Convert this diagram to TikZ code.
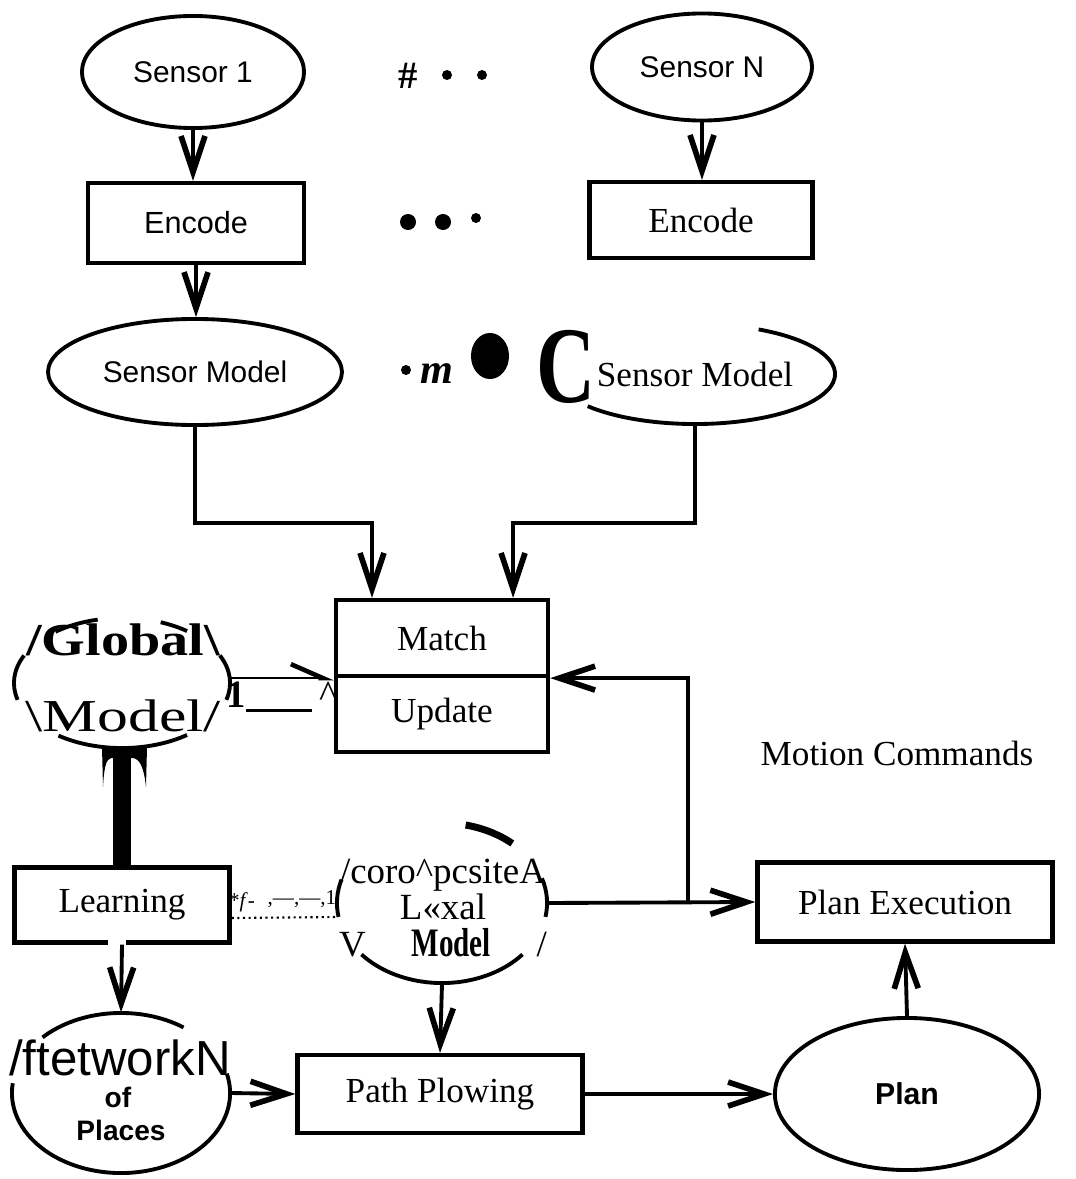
\documentclass[tikz,border=0pt]{standalone}
\usepackage{fontspec}
\setmainfont{Liberation Serif}
\setsansfont{Liberation Sans}
\usepackage{graphicx}
\usepackage{tikz}
\usetikzlibrary{shapes.geometric,arrows.meta,positioning}

\newcommand{\fsz}[1]{\fontsize{#1}{#1}\selectfont}

\begin{document}
\begin{tikzpicture}[x=0.01cm,y=-0.01cm]
\tikzstyle{line} = [line width=1.1pt]
\tikzstyle{box} = [draw, line width=1.2pt, rectangle, font=\fsz{10}]
\tikzstyle{oval} = [draw, line width=1.1pt, ellipse, font=\sffamily\fsz{8.5}]
\tikzstyle{blob} = [ellipse, inner sep=0pt]% outline drawn piece by piece below
\tikzstyle{arr} = [line width=1.1pt, -{Straight Barb[length=0.36cm,width=0.24cm,line width=1.6pt]}]
\tikzstyle{harp} = [line width=0.5pt, -{Straight Barb[harpoon,length=0.32cm,width=0.28cm,line width=1.3pt]}]
%
\useasboundingbox (0,0) rectangle (1076,1179);

	% sensors
	\node[oval, minimum width=2.22cm, minimum height=1.12cm] (sensA) at (193,72) {Sensor 1};
	\node[oval, minimum width=2.20cm, minimum height=1.07cm] (sensN) at (702,67) {Sensor N};
	\node[box, font=\sffamily\fsz{8.7}, minimum width=2.16cm, minimum height=0.80cm] (encA) at (196,223) {Encode};
	\node[box, minimum width=2.23cm, minimum height=0.76cm] (encN) at (701,220) {Encode};
	\node[oval, minimum width=2.86cm, minimum height=1.06cm] (smA) at (195,372) {Sensor Model};
	\node[blob, font=\fsz{10}, minimum width=2.8cm, minimum height=1.0cm] (smN) at (695,374) {Sensor Model};
	\draw[line] ([shift={(63:1.4cm and 0.5cm)}]smN.center) arc[start angle=63, end angle=-140, x radius=1.4cm, y radius=0.5cm];

	% dots between the columns
	\node[font=\bfseries\fsz{11}] (hash) at (408,76) {\#};
	\fill (447,75) circle[radius=0.05cm];
	\fill (482,75) circle[radius=0.05cm];
	\fill (408,222) circle[radius=0.08cm];
	\fill (443,222) circle[radius=0.08cm];
	\fill (476,218) circle[radius=0.05cm];
	\fill (406,370) circle[radius=0.05cm];
	\node[font=\bfseries\itshape\fsz{12}] (emm) at (437,374) {m};
	\fill (490,356) ellipse[x radius=0.19cm, y radius=0.23cm];
	\node[font=\bfseries\fsz{31}] (bigC) at (566,367) {\scalebox{0.75}[1]{C}};

	% match / update
	\node[box, minimum width=2.12cm, minimum height=0.76cm] (match) at (442,638) {Match};
	\node[box, minimum width=2.12cm, minimum height=0.76cm, below=-1.2pt of match] (update) {Update};

	% global model
	\node[blob, minimum width=2.16cm, minimum height=1.30cm] (glob) at (122,683) {};
	\node[font=\bfseries\fsz{13}] (globA) at (123,640) {\scalebox{1.23}[1]{/Global\textbackslash}};
	\node[font=\fsz{13}] (globB) at (123,716) {\scalebox{1.35}[1]{\textbackslash Model/}};
	\foreach \a/\b in {128/103, 69/53, 25/-15, 155/195, 234/307}
		\draw[line] ([shift={(\a:1.08cm and 0.65cm)}]glob.center) arc[start angle=\a, end angle=\b, x radius=1.08cm, y radius=0.65cm];
	\node[font=\fsz{11}] (tick) at (282,697) {\textbf{1}\rule[-1.5pt]{0.66cm}{1pt}\hspace{2pt}\textasciicircum};

	% lower part
	\node[box, minimum width=2.15cm, minimum height=0.75cm] (learn) at (122,905) {Learning};
	\node[blob, minimum width=2.10cm, minimum height=1.60cm] (comp) at (442,903) {};
	\node[font=\fsz{10.5}, align=center] (compT) at (443,908)
		{/coro\textasciicircum pcsiteA\\L«xal\\V\hspace{13pt}\scalebox{0.72}[1]{\fsz{11.5}\bfseries Model}\hspace{13pt}/};
	\foreach \a/\b in {163/190, 18/-10, 220/320}
		\draw[line] ([shift={(\a:1.05cm and 0.8cm)}]comp.center) arc[start angle=\a, end angle=\b, x radius=1.05cm, y radius=0.8cm];
	\draw[line width=2pt] ([shift={(77:1.05cm and 0.8cm)}]comp.center) arc[start angle=77, end angle=48, x radius=1.05cm, y radius=0.8cm];
	\node[box, minimum width=2.95cm, minimum height=0.79cm] (pexec) at (905,902) {Plan Execution};
	\node[font=\fsz{10}] (motion) at (897,753) {Motion Commands};
	\node[box, minimum width=2.85cm, minimum height=0.78cm] (path) at (440,1094) {Path Plowing};
	\node[oval, font=\sffamily\bfseries\fsz{8.6}, minimum width=2.64cm, minimum height=1.52cm] (plan) at (907,1094) {Plan};
	\node[blob, minimum width=2.18cm, minimum height=1.60cm] (net) at (121,1093) {};
	\foreach \a/\b in {136/55, 14/-187}
		\draw[line] ([shift={(\a:1.09cm and 0.8cm)}]net.center) arc[start angle=\a, end angle=\b, x radius=1.09cm, y radius=0.8cm];
	\node[font=\sffamily\fsz{14}] (netA) at (120,1058) {/ftetworkN};
	\node[font=\sffamily\bfseries\fsz{8}] (netB) at (118,1097) {of};
	\node[font=\sffamily\bfseries\fsz{8}] (netC) at (121,1130) {Places};

	% connectors
	\draw[arr] (sensA.south) -- (sensA.south |- encA.north);
	\draw[arr] (encA.south) -- (encA.south |- smA.north);
	\draw[arr] (sensN.south) -- (sensN.south |- encN.north);
	\draw[arr] (smA.south) |- ([xshift=-0.70cm,yshift=0.75cm]match.north) -- ([xshift=-0.70cm]match.north);
	\draw[arr] (smN.south) |- ([xshift=0.71cm,yshift=0.75cm]match.north) -- ([xshift=0.71cm]match.north);
	\draw[harp] (glob.east |- match.south west) -- (match.south west);
	\draw[line width=0.18cm] (glob.south) -- (learn.north);
	\fill (102,747) -- (147,747) -- (146,787) .. controls (144,768) and (140,759) .. (133,758) -- (111,758) .. controls (106,759) and (104,768) .. (103,787) -- cycle;
	\draw[white, line width=2pt] (108,942) -- (126,942);
	\draw[densely dotted, line width=0.6pt] ([yshift=-0.13cm]learn.east) -- ([yshift=-0.14cm]comp.west);
	\node[font=\fsz{6}] (junkA) at (242,902) {*\textit{f}-};
	\node[font=\fsz{6}] (junkB) at (302,899) {,—,—,1};
	\draw[arr] (learn.south) -- (net.north);
	\draw[arr] (net.east) -- (path.west);
	\draw[arr] (comp.south) -- (path.north);
	\draw[arr] (path.east) -- (plan.west);
	\draw[arr] (plan.north) -- (pexec.south);
	\draw[arr] (comp.east) -- (pexec.west);
	\coordinate (fork) at (688,903);
	\draw[arr] (fork) |- (match.south east);
\end{tikzpicture}
\end{document}
